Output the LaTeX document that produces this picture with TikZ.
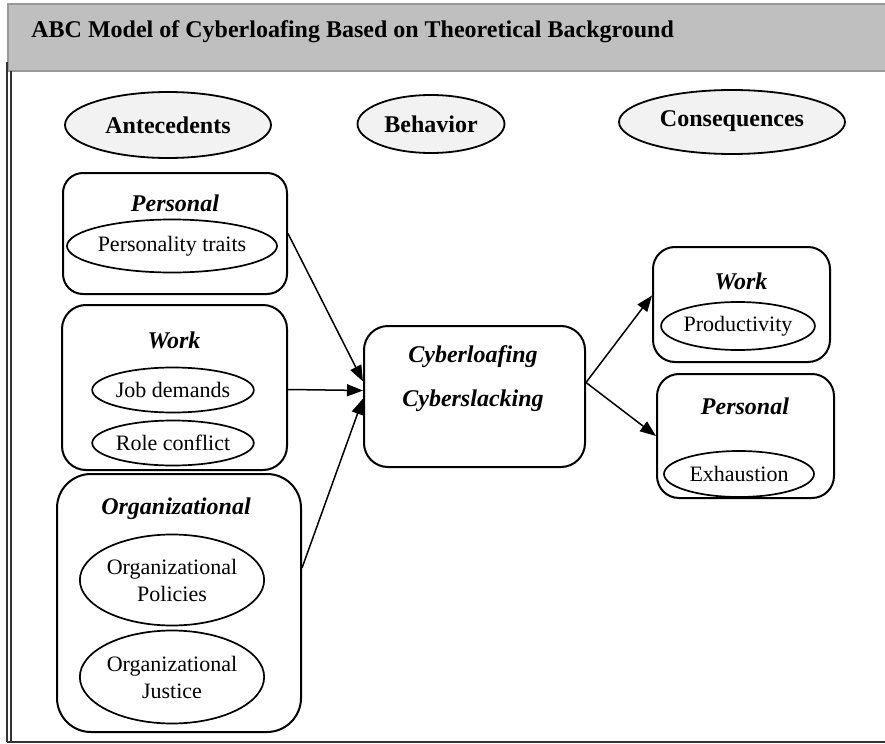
\documentclass[tikz,border=0pt]{standalone}
\usepackage{fontspec}
\setmainfont{Liberation Serif}
\usetikzlibrary{shapes.geometric,arrows.meta}
\begin{document}
\begin{tikzpicture}[x=0.5pt,y=-0.5pt,
 hdr/.style={ellipse, draw, line width=0.9pt, fill=black!5, inner sep=0pt, font=\fontsize{12}{14}\selectfont\bfseries},
 oval/.style={ellipse, draw, line width=0.85pt, fill=white, inner sep=0pt, font=\fontsize{11}{13.5}\selectfont, align=center},
 grp/.style={draw, line width=1pt, rectangle, inner sep=0pt},
 ttl/.style={font=\fontsize{12}{14}\selectfont\bfseries\itshape, inner sep=0pt},
 arr/.style={line width=0.75pt, -{Triangle[length=8pt,width=6pt]}},
 frame/.style={line width=0.6pt, draw=black!80}
]
\useasboundingbox (0,0) rectangle (885,744);
\begin{scope}
\clip (0,0) rectangle (885,744);
\draw[line width=1pt, draw=black!40, fill=black!25] (8,4) rectangle (895,71);
\draw[frame] (7,62) -- (7,742);
\draw[frame] (11,71) -- (11,742);
\draw[frame] (7,742) -- (890,742);
\end{scope}
\node[anchor=base west, inner sep=0pt, font=\fontsize{12}{14}\selectfont\bfseries] (title) at (31,38) {ABC Model of Cyberloafing Based on Theoretical Background};

% header ovals
\node[hdr, minimum width=103pt, minimum height=33pt] (ante) at (168,125) {Antecedents};
\node[hdr, minimum width=73.5pt, minimum height=29pt] (beh) at (431,124) {\raisebox{-1.5pt}{Behavior}};
\node[hdr, minimum width=113pt, minimum height=32pt] (cons) at (732,122) {\raisebox{3pt}{Consequences}};

% left groups
\node[grp, rounded corners=10pt, minimum width=112pt, minimum height=60.5pt] (pers) at (175,233.5) {};
\node[ttl] (perst) at (175,203) {Personal};
\node[oval, minimum width=105pt, minimum height=26.5pt] (trait) at (172,246) {Personality traits};

\node[grp, rounded corners=12pt, minimum width=112.5pt, minimum height=82.5pt] (work) at (174.5,387.5) {};
\node[ttl] (workt) at (174,340) {Work};
\node[oval, minimum width=80.5pt, minimum height=22.5pt] (job) at (173,390) {Job demands};
\node[oval, minimum width=80.5pt, minimum height=22.5pt] (role) at (173,443) {Role conflict};

\node[grp, rounded corners=17pt, minimum width=122pt, minimum height=129pt] (org) at (179,603) {};
\node[ttl] (orgt) at (176,509) {Organizational};
\node[oval, minimum width=92pt, minimum height=45.5pt] (pol) at (172,580) {Organizational\\Policies};
\node[oval, minimum width=91.5pt, minimum height=46.5pt] (jus) at (172,677) {Organizational\\Justice};

% centre
\node[grp, rounded corners=12pt, minimum width=110.5pt, minimum height=70.5pt] (cen) at (474.5,396.5) {};
\node[ttl] (cyb1) at (473,357) {Cyberloafing};
\node[ttl] (cyb2) at (473,401) {Cyberslacking};

% right groups
\node[grp, rounded corners=11pt, minimum width=88.5pt, minimum height=57.5pt] (rwork) at (741.5,304.5) {};
\node[ttl] (rworkt) at (741,281) {Work};
\node[oval, minimum width=76.5pt, minimum height=24pt] (prod) at (738,326) {Productivity};

\node[grp, rounded corners=11pt, minimum width=88.5pt, minimum height=62pt] (rpers) at (745.5,436) {};
\node[ttl] (rperst) at (745,406) {Personal};
\node[oval, minimum width=75pt, minimum height=23pt] (exh) at (739,474) {Exhaustion};

% arrows
\draw[arr] (pers.east) -- ([yshift=7.5pt]cen.west);
\draw[arr] ([yshift=-1pt]work.east) -- ([yshift=3pt]cen.west);
\draw[arr] ([yshift=17.5pt]org.east) -- ([yshift=-1pt]cen.west);
\draw[arr] ([yshift=7pt]cen.east) -- ([yshift=4.5pt]rwork.west);
\draw[arr] ([yshift=7pt]cen.east) -- ([yshift=0pt]rpers.west);
\end{tikzpicture}
\end{document}
